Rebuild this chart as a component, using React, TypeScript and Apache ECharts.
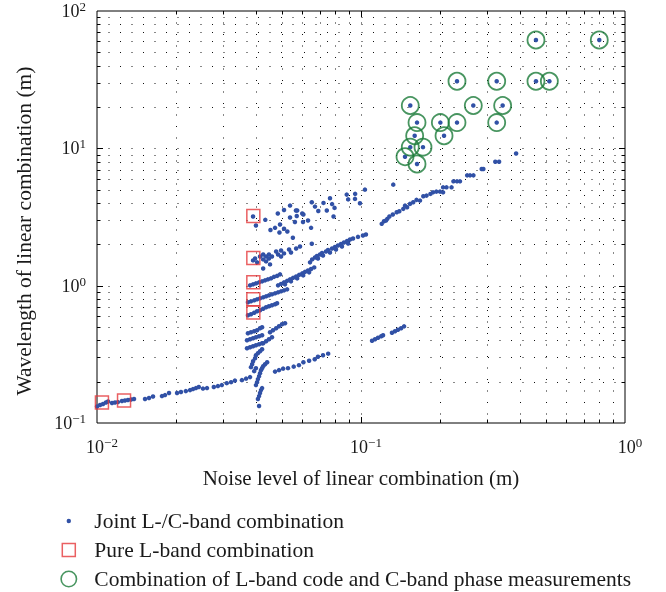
import React, { useEffect, useRef } from 'react';
import * as echarts from 'echarts';

// ---------- axis ticks ----------
const xMajorTicks = [0.01, 0.1, 1];
const xTickExponents = ['−2', '−1', '0'];
const yMajorTicks = [0.1, 1, 10, 100];
const yTickExponents = ['−1', '0', '1', '2'];
const xMinorTicks = [0.02, 0.03, 0.04, 0.05, 0.06, 0.07, 0.08, 0.09, 0.2, 0.3, 0.4, 0.5, 0.6, 0.7, 0.8, 0.9];
const yMinorTicks = [0.2, 0.3, 0.4, 0.5, 0.6, 0.7, 0.8, 0.9, 2, 3, 4, 5, 6, 7, 8, 9, 20, 30, 40, 50, 60, 70, 80, 90];

// ---------- series names ----------
const jointName = 'Joint L-/C-band combination';
const pureName = 'Pure L-band combination';
const codePhaseName = 'Combination of L-band code and C-band phase measurements';

// ---------- joint L-/C-band points [noise, wavelength] ----------
const jointLowBand: number[][] = [
  [0.0100, 0.1318], [0.01027, 0.1351], [0.01054, 0.1374], [0.01081, 0.141], [0.01101, 0.1433],
  [0.0114, 0.1397], [0.0117, 0.141], [0.012, 0.142],
  [0.01243, 0.1445], [0.01276, 0.1457], [0.0131, 0.1469], [0.01346, 0.1482], [0.01381, 0.1494],
  [0.0152, 0.1494], [0.01574, 0.1519], [0.0163, 0.1559],
  [0.01762, 0.157], [0.0181, 0.1597], [0.01874, 0.1652],
  [0.0201, 0.1652], [0.0208, 0.168], [0.0217, 0.1707],
  [0.02251, 0.1736], [0.0231, 0.1766], [0.0237, 0.1796], [0.0243, 0.1827],
  [0.0252, 0.1781], [0.0261, 0.1796],
  [0.0277, 0.1827], [0.0287, 0.1857], [0.0297, 0.1888],
  [0.031, 0.195], [0.0322, 0.1983], [0.0333, 0.2035],
  [0.0354, 0.2052], [0.0367, 0.2104], [0.038, 0.2158],
];
const jointMidBand: number[][] = [
  [0.04725, 0.2367], [0.0489, 0.2426], [0.0507, 0.2488],
  [0.0529, 0.2508], [0.0556, 0.2573], [0.0582, 0.2637],
  [0.0605, 0.2772], [0.0636, 0.2841], [0.0668, 0.2913],
  [0.0687, 0.304], [0.0718, 0.3117], [0.0751, 0.3198],
  [0.1101, 0.3969], [0.113, 0.4076], [0.116, 0.4176], [0.1193, 0.4285], [0.1212, 0.4355],
  [0.131, 0.4538], [0.1345, 0.4655], [0.138, 0.4775], [0.1419, 0.4895], [0.1456, 0.5055],
];
const jointColumn: number[][] = [
  [0.0411, 0.1329], [0.0407, 0.1494], [0.0411, 0.157], [0.04145, 0.1652], [0.0418, 0.1736], [0.0422, 0.1796],
  [0.04, 0.1888], [0.0404, 0.1983], [0.0407, 0.2087], [0.0411, 0.2194], [0.04145, 0.2307],
  [0.0418, 0.2426], [0.0422, 0.2508], [0.0426, 0.2593], [0.0433, 0.2681], [0.0441, 0.2772],
  [0.0383, 0.255], [0.0387, 0.2681], [0.039, 0.2819], [0.0397, 0.2964], [0.04, 0.3117],
  [0.0407, 0.3225], [0.04145, 0.3333], [0.0422, 0.3447], [0.0394, 0.2386], [0.04, 0.2508],
  [0.037, 0.3505], [0.038, 0.3564], [0.039, 0.3624], [0.04, 0.3684], [0.0411, 0.3746], [0.0422, 0.3809],
  [0.037, 0.4005], [0.038, 0.4073], [0.039, 0.4141], [0.04, 0.4211], [0.0411, 0.4282], [0.0422, 0.4355],
  [0.0426, 0.3809], [0.0437, 0.3939], [0.0448, 0.4073], [0.046, 0.4211],
  [0.0373, 0.4502], [0.0383, 0.4578], [0.0394, 0.4656], [0.0404, 0.4735], [0.04145, 0.4895], [0.0422, 0.4978],
  [0.04523, 0.4578], [0.0464, 0.4735], [0.0477, 0.4895], [0.0489, 0.5062], [0.0502, 0.5234], [0.05155, 0.5322],
];
const jointStreaks: number[][] = [
  [0.0373, 0.6085], [0.0383, 0.6188], [0.0394, 0.6345], [0.0404, 0.6506], [0.04145, 0.6616], [0.0426, 0.6784],
  [0.0437, 0.6956], [0.0448, 0.7073], [0.046, 0.7193], [0.04725, 0.7314], [0.0481, 0.7438],
  [0.0373, 0.7564], [0.0383, 0.7691], [0.0394, 0.782], [0.0404, 0.7952], [0.04145, 0.8086], [0.0426, 0.8223],
  [0.0437, 0.8361], [0.0448, 0.8502], [0.046, 0.8646], [0.04725, 0.8792], [0.0485, 0.894], [0.0498, 0.9091],
  [0.0511, 0.9244], [0.0525, 0.94],
  [0.038, 1.005], [0.039, 1.022], [0.04, 1.039], [0.0411, 1.057], [0.0422, 1.075], [0.0433, 1.093],
  [0.0444, 1.111], [0.0456, 1.13], [0.0468, 1.159], [0.0481, 1.178], [0.04935, 1.208],
  [0.0485, 1.005], [0.0498, 1.03], [0.0511, 1.057], [0.0525, 1.084], [0.05385, 1.111], [0.0553, 1.14],
  [0.0568, 1.168], [0.0583, 1.198], [0.0599, 1.229], [0.06136, 1.26], [0.063, 1.291], [0.0647, 1.324], [0.0665, 1.358],
  [0.05155, 1.022], [0.0543, 1.075], [0.0573, 1.13], [0.0604, 1.188], [0.0636, 1.25],
];
const jointUpperCurve: number[][] = [
  [0.0641, 1.478], [0.0653, 1.553], [0.06695, 1.604], [0.0681, 1.645], [0.06994, 1.688], [0.0712, 1.73],
  [0.0737, 1.775], [0.075, 1.82], [0.0777, 1.867], [0.07971, 1.914], [0.0818, 1.962], [0.084, 2.012],
  [0.0862, 2.064], [0.0886, 2.116], [0.09086, 2.17], [0.0933, 2.207], [0.0974, 2.266], [0.1017, 2.319], [0.1044, 2.359],
  [0.0687, 1.578], [0.0718, 1.66], [0.0763, 1.745], [0.0804, 1.836], [0.0847, 1.93], [0.0894, 2.029],
];
const jointCluster: number[][] = [
  [0.039, 1.527], [0.0397, 1.578], [0.0404, 1.478], [0.04145, 1.632], [0.0426, 1.688], [0.0426, 1.553],
  [0.0437, 1.632], [0.0437, 1.502], [0.0448, 1.688], [0.0448, 1.578], [0.046, 1.632], [0.0477, 1.775],
  [0.0485, 1.688], [0.0498, 1.805], [0.0498, 1.632], [0.0511, 1.717], [0.0534, 1.836], [0.0543, 1.745],
  [0.0568, 1.867], [0.05875, 1.93], [0.0426, 1.335], [0.04523, 1.428],
  [0.039, 3.186], [0.04, 2.741], [0.0434, 3.015], [0.0484, 3.35], [0.0511, 3.553], [0.05385, 3.83],
  [0.0573, 3.523], [0.0599, 3.35], [0.0454, 2.542], [0.04725, 2.637], [0.04935, 2.787], [0.0491, 2.438],
  [0.0511, 2.594], [0.0526, 2.479], [0.05385, 3.134], [0.0562, 2.906], [0.0571, 3.213], [0.0567, 3.523],
  [0.0605, 3.295], [0.063, 2.98], [0.0647, 2.637], [0.0552, 2.232], [0.0651, 2.018], [0.0651, 4.047],
  [0.06695, 3.766], [0.0689, 3.494], [0.0721, 4.005], [0.0742, 3.523], [0.07631, 4.328], [0.0777, 3.927],
  [0.0794, 3.685], [0.0787, 3.186], [0.0883, 4.603], [0.0894, 4.249], [0.095, 4.66], [0.0991, 3.98],
  [0.1035, 5.003], [0.1325, 5.44], [0.0949, 4.284], [0.0603, 2.906],
];
const jointHighCurve: number[][] = [
  [0.1198, 2.82], [0.1222, 2.945], [0.1258, 3.067], [0.1281, 3.186], [0.132, 3.295], [0.1365, 3.424],
  [0.1397, 3.482], [0.1446, 3.624], [0.1495, 3.722], [0.1533, 3.94], [0.1577, 4.047], [0.1623, 4.213],
  [0.1673, 4.164], [0.1722, 4.474], [0.1771, 4.527], [0.1832, 4.658], [0.1874, 4.782], [0.1929, 4.838],
  [0.1992, 4.838], [0.2046, 5.199], [0.2108, 5.199], [0.2203, 5.199], [0.2046, 4.782], [0.2239, 5.749],
  [0.231, 5.749], [0.2371, 5.749], [0.2524, 6.356], [0.2588, 6.356], [0.2666, 6.356], [0.2865, 7.075],
  [0.2907, 7.075], [0.3226, 7.992], [0.3335, 7.992], [0.3868, 9.181], [0.1468, 3.83], [0.1244, 2.98],
];
const jointCircleCentres: number[][] = [
  [0.46, 61.5], [0.799, 61.5], [0.231, 30.8], [0.3266, 30.8], [0.46, 30.8], [0.517, 30.8],
  [0.1537, 20.5], [0.2663, 20.5], [0.344, 20.5], [0.163, 15.4], [0.1998, 15.4], [0.231, 15.4],
  [0.3266, 15.4], [0.1597, 12.35], [0.2063, 12.35], [0.1537, 10.2], [0.1717, 10.2], [0.1468, 8.69], [0.163, 7.69],
];

// ---------- pure L-band combinations ----------
const pureLBand: number[][] = [
  [0.0391, 3.21], [0.0391, 1.59], [0.0391, 1.057], [0.0391, 0.795], [0.0391, 0.637], [0.01044, 0.141], [0.01266, 0.146],
];

// ---------- L-band code + C-band phase ----------
const codePhase: number[][] = jointCircleCentres;

const FONT = '"Liberation Serif", "Times New Roman", serif';
const BLUE = '#3151a6';
const RED = '#e5383b';
const GREEN = '#1a7a38';

export default function App() {
  const ref = useRef<HTMLDivElement>(null);

  useEffect(() => {
    if (!ref.current) return;
    const chart = echarts.init(ref.current, null, { renderer: 'svg' });

    const joint = [
      ...jointLowBand, ...jointMidBand, ...jointColumn, ...jointStreaks,
      ...jointUpperCurve, ...jointCluster, ...jointHighCurve, ...jointCircleCentres,
    ];

    const gridData = [
      ...xMinorTicks.map((v) => [v, 1, 0, 0]),
      ...xMajorTicks.slice(1, -1).map((v) => [v, 1, 0, 1]),
      ...yMinorTicks.map((v) => [0.1, v, 1, 0]),
      ...yMajorTicks.slice(1, -1).map((v) => [0.1, v, 1, 1]),
    ];

    const expLabel = (ticks: number[], exps: string[]) => (v: number) => {
      const i = ticks.findIndex((t) => Math.abs(Math.log10(t) - Math.log10(v)) < 1e-6);
      return i < 0 ? '' : `{b|10}{s|${exps[i]}}`;
    };
    const rich = {
      b: { fontFamily: FONT, fontSize: 18, lineHeight: 22, color: '#1a1a1a' },
      s: { fontFamily: FONT, fontSize: 13, lineHeight: 13, verticalAlign: 'top', color: '#1a1a1a' },
    };

    const dotStyle = { stroke: '#111', lineWidth: 1, lineDash: [1, 10.5] };
    const tickStyle = { stroke: '#000', lineWidth: 1 };

    chart.setOption({
      animation: false,
      textStyle: { fontFamily: FONT },
      grid: { left: 97, top: 10, width: 528, height: 413, show: true, borderColor: '#000', borderWidth: 1, backgroundColor: 'transparent' },
      xAxis: {
        type: 'log', logBase: 10, min: 0.01, max: 1,
        axisLine: { show: false }, axisTick: { show: false }, splitLine: { show: false },
        axisLabel: { formatter: expLabel(xMajorTicks, xTickExponents), rich, margin: 13, padding: [0, 0, 0, 10] },
        name: 'Noise level of linear combination (m)', nameLocation: 'middle', nameGap: 44,
        nameTextStyle: { fontFamily: FONT, fontSize: 21, color: '#1a1a1a' },
      },
      yAxis: {
        type: 'log', logBase: 10, min: 0.1, max: 100,
        axisLine: { show: false }, axisTick: { show: false }, splitLine: { show: false },
        axisLabel: { formatter: expLabel(yMajorTicks, yTickExponents), rich, margin: 11 },
        name: 'Wavelength of linear combination (m)', nameLocation: 'middle', nameGap: 62,
        nameTextStyle: { fontFamily: FONT, fontSize: 21.5, color: '#1a1a1a', padding: [0, 28, 0, 0] },
      },
      legend: {
        orient: 'vertical', left: 59.5, top: 510, padding: 0, itemWidth: 17, itemHeight: 17, itemGap: 7,
        selectedMode: false,
        textStyle: { fontFamily: FONT, fontSize: 21.5, lineHeight: 20.5, color: '#1a1a1a', padding: [0, 0, 0, 12] },
        data: [
          { name: jointName, icon: 'path://M0,0M17,17M6.3,8.5A2.2,2.2,0,1,1,10.7,8.5A2.2,2.2,0,1,1,6.3,8.5Z', itemStyle: { color: BLUE, borderWidth: 0 } },
          { name: pureName, icon: 'path://M0,0M17,17M2,2L15,2L15,15L2,15Z', itemStyle: { color: 'rgba(0,0,0,0)', borderColor: RED, borderWidth: 1.5 } },
          { name: codePhaseName, icon: 'path://M0,0M17,17M0.8,8.5A7.7,7.7,0,1,1,16.2,8.5A7.7,7.7,0,1,1,0.8,8.5Z', itemStyle: { color: 'rgba(0,0,0,0)', borderColor: GREEN, borderWidth: 1.6 } },
        ],
      },
      series: [
        {
          name: 'grid', type: 'custom', silent: true, z: 1, data: gridData, encode: { x: 0, y: 1 },
          renderItem: (params: any, api: any) => {
            const cs = params.coordSys;
            const p = api.coord([api.value(0), api.value(1)]);
            const len = api.value(3) === 1 ? 6 : 3.5;
            if (api.value(2) === 0) {
              const x = Math.round(p[0]) + 0.5;
              return {
                type: 'group', children: [
                  { type: 'line', shape: { x1: x, y1: cs.y, x2: x, y2: cs.y + cs.height }, style: dotStyle },
                  { type: 'line', shape: { x1: x, y1: cs.y + cs.height, x2: x, y2: cs.y + cs.height - len }, style: tickStyle },
                  { type: 'line', shape: { x1: x, y1: cs.y, x2: x, y2: cs.y + len }, style: tickStyle },
                ],
              };
            }
            const y = Math.round(p[1]) + 0.5;
            return {
              type: 'group', children: [
                { type: 'line', shape: { x1: cs.x, y1: y, x2: cs.x + cs.width, y2: y }, style: dotStyle },
                { type: 'line', shape: { x1: cs.x, y1: y, x2: cs.x + len, y2: y }, style: tickStyle },
                { type: 'line', shape: { x1: cs.x + cs.width, y1: y, x2: cs.x + cs.width - len, y2: y }, style: tickStyle },
              ],
            };
          },
        },
        {
          name: jointName, type: 'scatter', z: 3, symbol: 'circle', symbolSize: 4.5,
          itemStyle: { color: BLUE, opacity: 1 }, data: joint,
        },
        {
          name: pureName, type: 'scatter', z: 4, symbol: 'rect', symbolSize: 13,
          itemStyle: { color: 'rgba(0,0,0,0)', borderColor: RED, borderWidth: 1.5 }, data: pureLBand,
        },
        {
          name: codePhaseName, type: 'scatter', z: 4, symbol: 'circle', symbolSize: 17,
          itemStyle: { color: 'rgba(0,0,0,0)', borderColor: GREEN, borderWidth: 1.8 }, data: codePhase,
        },
      ],
    });

    return () => chart.dispose();
  }, []);

  return <div ref={ref} style={{ position: 'fixed', left: 0, top: 0, width: 666, height: 592 }} />;
}
